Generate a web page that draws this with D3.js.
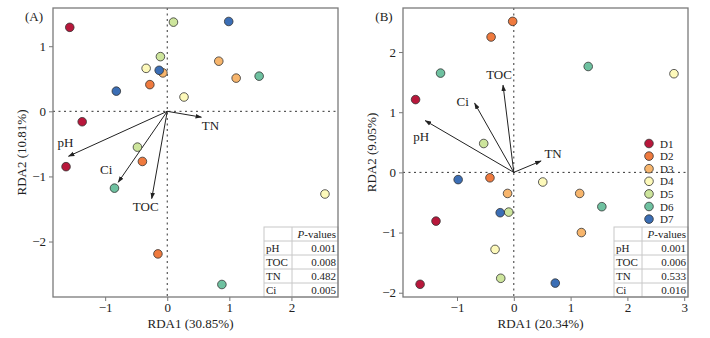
<!DOCTYPE html>
<html><head><meta charset="utf-8">
<script src="https://cdn.jsdelivr.net/npm/d3@7"></script>
<style>
body{margin:0;background:#fff;}
svg{display:block;font-family:"Liberation Serif","Times New Roman",serif;}
</style></head>
<body><svg id="c" width="710" height="338"></svg>
<script>
// ---- data ----
const groups = ["D1","D2","D3","D4","D5","D6","D7"];
const colors = ["#b8173b","#ef7a3e","#f7b56c","#fdf9ba","#cde59c","#6ec1a0","#3b6eb5"];

// Panel A samples
const aGroup = ["D1","D1","D1","D2","D2","D2","D3","D3","D3","D4","D4","D4","D5","D5","D5","D6","D6","D6","D7","D7","D7"];
const aX = [-1.57,-1.37,-1.63,-0.28,-0.40,-0.15,-0.07,0.83,1.11,-0.34,0.27,2.54,0.10,-0.11,-0.48,1.48,-0.85,0.88,0.99,-0.13,-0.82];
const aY = [1.29,-0.16,-0.85,0.41,-0.77,-2.19,0.59,0.77,0.51,0.66,0.22,-1.27,1.37,0.84,-0.55,0.54,-1.18,-2.66,1.38,0.63,0.31];
// Panel A environmental vectors
const aVar = ["pH","TOC","TN","Ci"];
const aVX = [-1.59,-0.25,0.55,-0.79];
const aVY = [-0.69,-1.34,-0.09,-1.09];
const aP = ["0.001","0.008","0.482","0.005"];

// Panel B samples
const bGroup = ["D1","D1","D1","D2","D2","D2","D3","D3","D3","D4","D4","D4","D5","D5","D5","D6","D6","D6","D7","D7","D7"];
const bX = [-1.73,-1.37,-1.65,-0.02,-0.40,-0.42,-0.11,1.16,1.19,2.82,0.51,-0.33,-0.53,-0.09,-0.23,-1.29,1.31,1.55,-0.98,-0.24,0.73];
const bY = [1.21,-0.81,-1.86,2.51,2.25,-0.09,-0.35,-0.35,-1.00,1.64,-0.16,-1.28,0.48,-0.66,-1.76,1.65,1.76,-0.57,-0.12,-0.67,-1.84];
const bVar = ["pH","TOC","TN","Ci"];
const bVX = [-1.56,-0.19,0.48,-0.69];
const bVY = [0.86,1.45,0.19,1.15];
const bP = ["0.001","0.006","0.533","0.016"];

const ticksAX = [-1,0,1,2], ticksAY = [-2,-1,0,1];
const ticksBX = [-1,0,1,2,3], ticksBY = [-2,-1,0,1,2];

const color = d3.scaleOrdinal().domain(groups).range(colors);
const svg = d3.select("#c");

svg.append("defs").append("marker")
  .attr("id","ah").attr("viewBox","0 0 10 10").attr("refX",9).attr("refY",5)
  .attr("markerWidth",6.5).attr("markerHeight",6.5).attr("orient","auto")
  .attr("markerUnits","userSpaceOnUse")
  .append("path").attr("d","M0,1.5 L10,5 L0,8.5 Z").attr("fill","#222");

function panel(o){
  const g = svg.append("g");
  const x = d3.scaleLinear().domain(o.xd).range([o.l,o.r]);
  const y = d3.scaleLinear().domain(o.yd).range([o.b,o.t]);
  // zero lines
  g.append("line").attr("x1",o.l).attr("x2",o.r).attr("y1",y(0)).attr("y2",y(0))
    .attr("stroke","#333").attr("stroke-width",1).attr("stroke-dasharray","2,3.5");
  g.append("line").attr("x1",x(0)).attr("x2",x(0)).attr("y1",o.t).attr("y2",o.b)
    .attr("stroke","#333").attr("stroke-width",1).attr("stroke-dasharray","2,3.5");
  // axes
  const ax = g.append("g").attr("transform",`translate(0,${o.b})`)
    .call(d3.axisBottom(x).tickValues(o.tx).tickSize(4).tickPadding(2).tickFormat(d=>d<0?"\u2212"+Math.abs(d):d));
  const ay = g.append("g").attr("transform",`translate(${o.l},0)`)
    .call(d3.axisLeft(y).tickValues(o.ty).tickSize(4).tickPadding(3).tickFormat(d=>d<0?"\u2212"+Math.abs(d):d));
  [ax,ay].forEach(a=>{
    a.select(".domain").remove();
    a.selectAll("line").attr("stroke","#777");
    a.selectAll("text").attr("font-family","Liberation Serif").attr("font-size",13).attr("fill","#222");
  });
  // table
  const tl=o.tl, tr=o.r, tt=o.b-70, rh=14, tc=o.tc;
  const tg = g.append("g");
  tg.append("rect").attr("x",tl).attr("y",tt).attr("width",tr-tl).attr("height",o.b-tt)
    .attr("fill","#fff").attr("stroke","#c8c8c8").attr("stroke-width",1);
  for(let i=1;i<5;i++) tg.append("line").attr("x1",tl).attr("x2",tr).attr("y1",tt+i*rh).attr("y2",tt+i*rh).attr("stroke","#c8c8c8");
  tg.append("line").attr("x1",tc).attr("x2",tc).attr("y1",tt).attr("y2",o.b).attr("stroke","#c8c8c8");
  const ht = tg.append("text").attr("x",tr-2).attr("y",tt+rh-3.5).attr("text-anchor","end").attr("font-size",11).attr("fill","#222");
  ht.append("tspan").attr("font-style","italic").text("P");
  ht.append("tspan").text("-values");
  o.vars.forEach((v,i)=>{
    tg.append("text").attr("x",tl+2).attr("y",tt+(i+2)*rh-3.5).attr("font-size",11).attr("fill","#222").text(v);
    tg.append("text").attr("x",tr-2).attr("y",tt+(i+2)*rh-3.5).attr("text-anchor","end").attr("font-size",11).attr("fill","#222").text(o.p[i]);
  });
  // frame
  g.append("rect").attr("x",o.l).attr("y",o.t).attr("width",o.r-o.l).attr("height",o.b-o.t)
    .attr("fill","none").attr("stroke","#7a7a7a").attr("stroke-width",1.3);
  // arrows
  o.vars.forEach((v,i)=>{
    g.append("line").attr("x1",x(0)).attr("y1",y(0)).attr("x2",x(o.vx[i])).attr("y2",y(o.vy[i]))
      .attr("stroke","#222").attr("stroke-width",1).attr("marker-end","url(#ah)");
    const lp = o.lab[v];
    g.append("text").attr("x",x(o.vx[i])+lp[0]).attr("y",y(o.vy[i])+lp[1]).attr("text-anchor","middle")
      .attr("font-size",13).attr("fill","#222").text(v);
  });
  // points
  g.selectAll("circle.pt").data(o.gr.map((d,i)=>({g:d,x:o.px[i],y:o.py[i]}))).join("circle")
    .attr("class","pt").attr("cx",d=>x(d.x)).attr("cy",d=>y(d.y)).attr("r",4.3)
    .attr("fill",d=>color(d.g)).attr("stroke","#333").attr("stroke-width",0.8);
  // labels
  g.append("text").attr("x",(o.l+o.r)/2-5).attr("y",o.b+31).attr("text-anchor","middle")
    .attr("font-size",13).attr("fill","#222").text(o.xl);
  g.append("text").attr("transform",`translate(${o.l-27},${(o.t+o.b)/2}) rotate(-90)`).attr("text-anchor","middle")
    .attr("font-size",13).attr("fill","#222").text(o.yl);
  g.append("text").attr("x",o.l-19).attr("y",21).attr("text-anchor","middle")
    .attr("font-size",13).attr("fill","#222").text(o.name);
}

panel({l:53,r:338,t:8,b:297,xd:[-1.84,2.75],yd:[-2.852,1.587],tx:ticksAX,ty:ticksAY,
  gr:aGroup,px:aX,py:aY,vars:aVar,vx:aVX,vy:aVY,p:aP,tl:264,tc:292,
  lab:{pH:[-3,-9],TOC:[-6,12],TN:[9,13],Ci:[-12,-8]},
  xl:"RDA1 (30.85%)",yl:"RDA2 (10.81%)",name:"(A)"});
panel({l:403,r:688,t:8,b:297,xd:[-1.951,3.067],yd:[-2.071,2.732],tx:ticksBX,ty:ticksBY,
  gr:bGroup,px:bX,py:bY,vars:bVar,vx:bVX,vy:bVY,p:bP,tl:614,tc:642,
  lab:{pH:[-4,20],TOC:[-4,-6],TN:[12,-3],Ci:[-12,3]},
  xl:"RDA1 (20.34%)",yl:"RDA2 (9.05%)",name:"(B)"});

// legend
const lg = svg.append("g");
groups.forEach((d,i)=>{
  const yy = 143.5 + i*12.6;
  lg.append("circle").attr("cx",649).attr("cy",yy).attr("r",4.3).attr("fill",color(d)).attr("stroke","#333").attr("stroke-width",0.8);
  lg.append("text").attr("x",660).attr("y",yy+4).attr("font-size",11).attr("fill","#222").text(d);
});
</script></body></html>
